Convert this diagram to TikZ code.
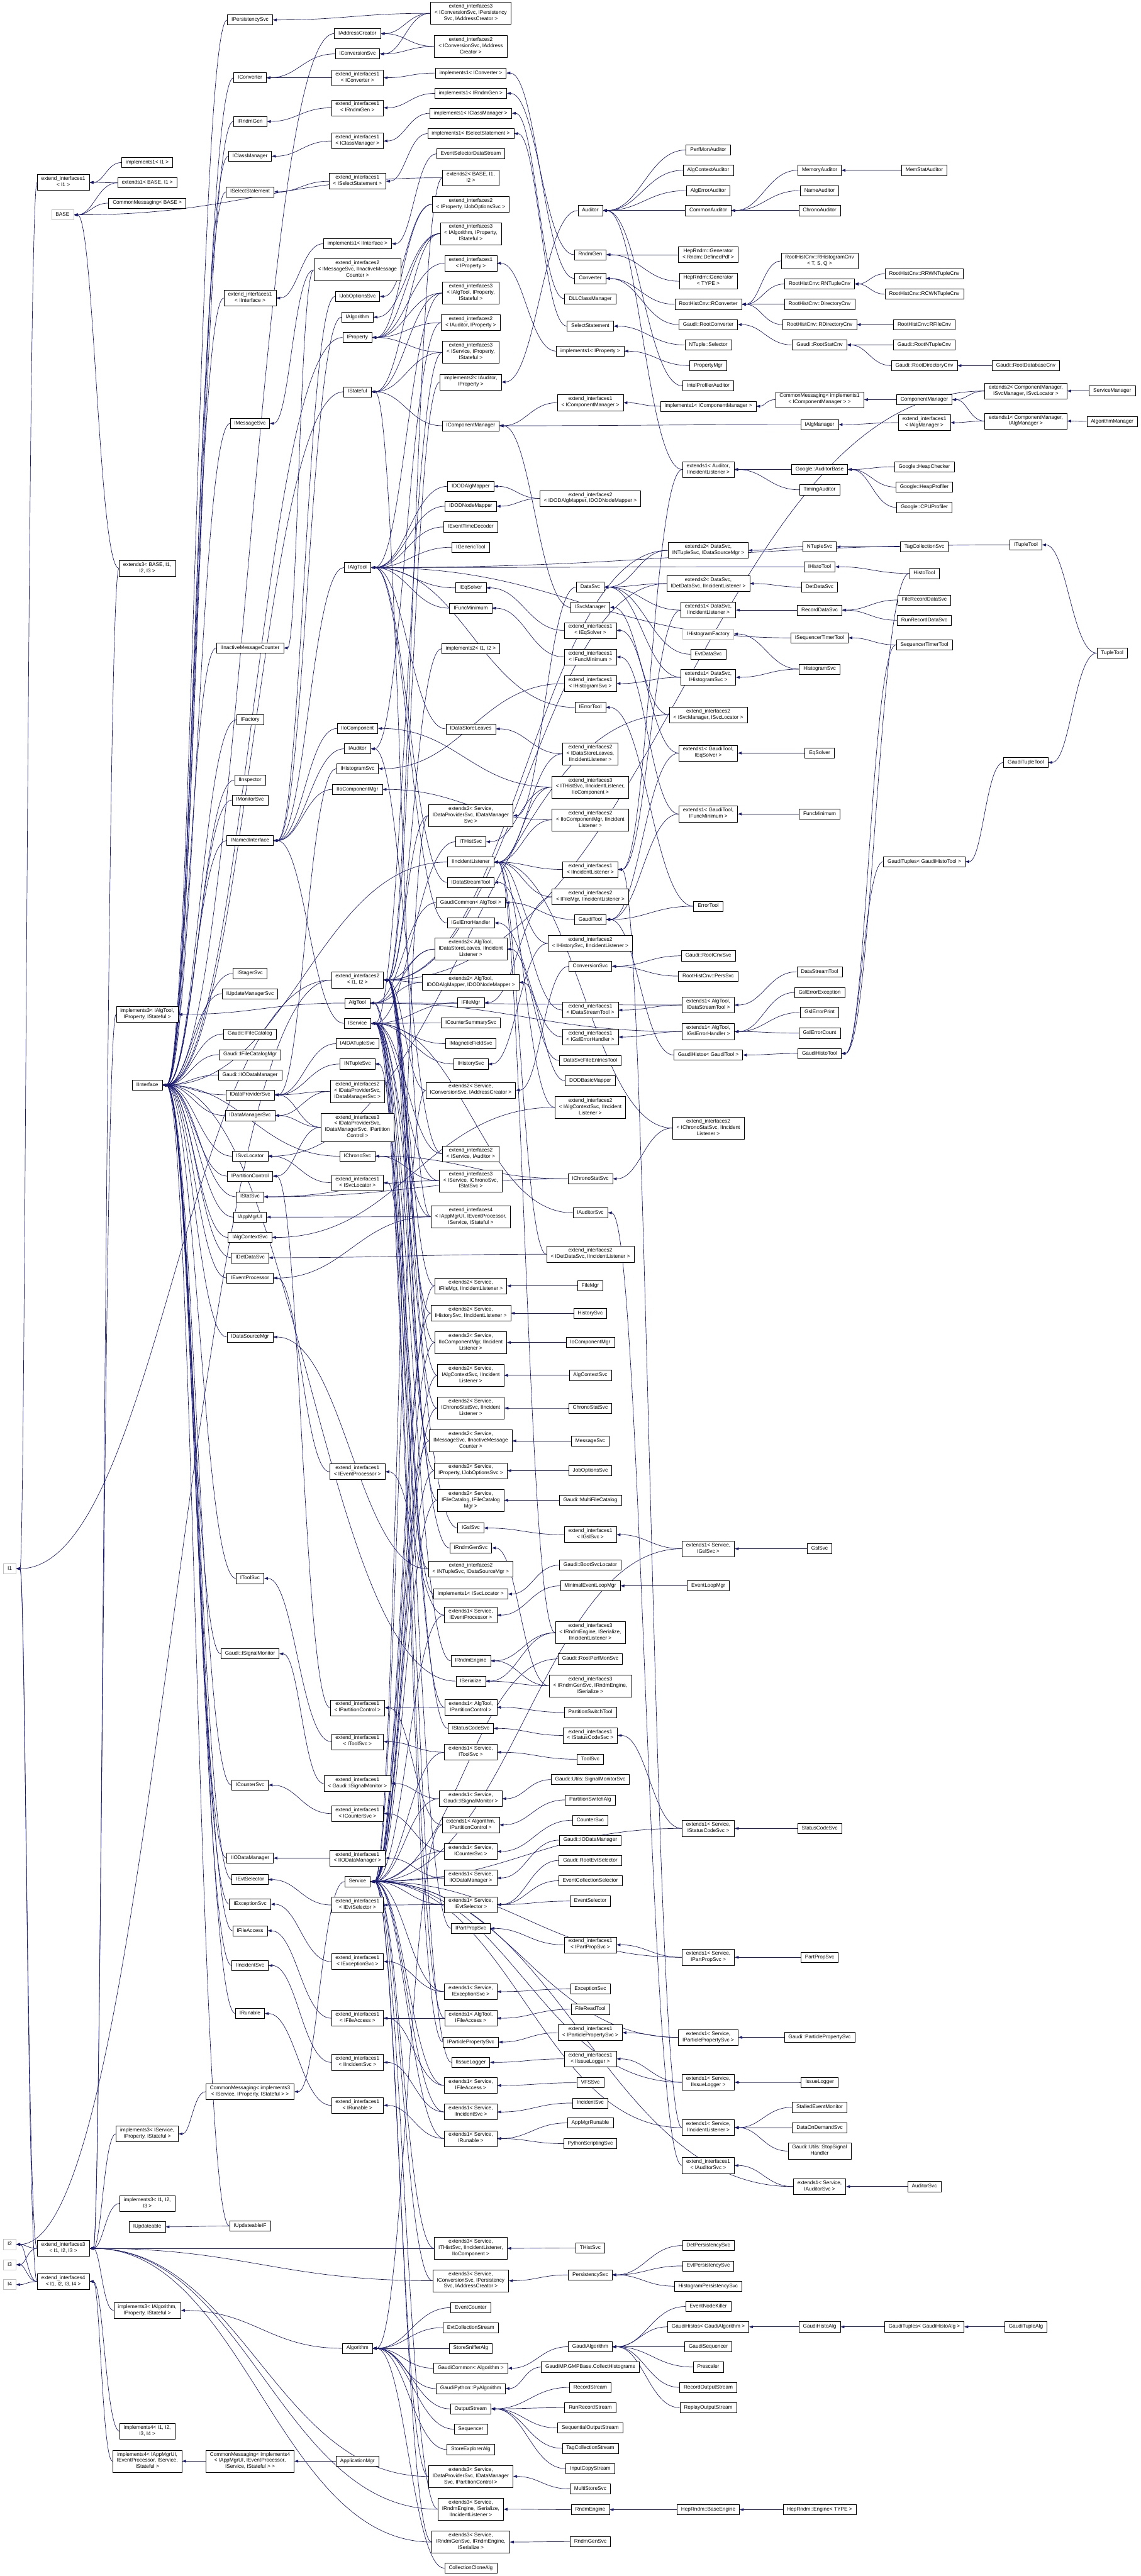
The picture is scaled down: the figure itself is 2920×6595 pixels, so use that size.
\documentclass[tikz,border=0pt]{standalone}
\usepackage{fontspec}
\setmainfont{Liberation Sans}
\usetikzlibrary{arrows.meta,calc}
\definecolor{edgec}{RGB}{25,25,112}
\pgfdeclarelayer{back}
\pgfdeclarelayer{edges}
\pgfsetlayers{back,edges,main}
\tikzset{
 nd/.style={draw=black, fill=white, line width=1pt, align=center, inner xsep=10.5pt, inner ysep=5pt,
   minimum height=26pt, font=\fontsize{13.3}{16}\selectfont,
   execute at begin node=\strut, execute at end node=\strut},
 grn/.style={draw=gray!50},
 edg/.style={draw=edgec, line width=1.1pt, -{Triangle[length=10pt,width=7pt]},
   to path={let \p1=(\tikztostart.west), \p2=(\tikztotarget.east), \n1={max(20pt,0.45*(\x1-\x2))} in (\p1) .. controls +(-\n1,0) and +(\n1,0) .. (\p2)}}
}
\newcommand\Nd[4][]{\node[nd,#1] (#2) at (#3) {#4};}
\newcommand\Ed[2]{\foreach \pp in {#2}{\draw[edg] (#1) to (\pp);}}
\begin{document}
\begin{tikzpicture}[x=1pt,y=-1pt]
\useasboundingbox (0,0) rectangle (2920,6595);
\begin{pgfonlayer}{back}\fill[white] (0,0) rectangle (2920,6595);\end{pgfonlayer}
% ---- col 25
\Nd[grn]{Ia}{25,4016}{I1}
\Nd[grn]{Ib}{25,5746}{I2}
\Nd[grn]{Ic}{25,5798}{I3}
\Nd[grn]{Id}{25,5849}{I4}
% ---- col 162
\Nd{eiIa}{162,467}{extend\_interfaces1\\< I1 >}
\Nd[grn]{BASE}{160,550}{BASE}
\Nd{eiIIIg}{162,5756}{extend\_interfaces3\\< I1, I2, I3 >}
\Nd{eiIVg}{162,5841}{extend\_interfaces4\\< I1, I2, I3, I4 >}
% ---- col 377
\Nd{imIa}{377,416}{implements1< I1 >}
\Nd{exIB}{377,468}{extends1< BASE, I1 >}
\Nd{cmB}{377,520}{CommonMessaging< BASE >}
\Nd{exIIIB}{377,1455}{extends3< BASE, I1,\\I2, I3 >}
\Nd{imToolPS}{377,2597}{implements3< IAlgTool,\\IProperty, IStateful >}
\Nd{IInterface}{377,2778}{IInterface}
\Nd{imSvcPS}{377,5463}{implements3< IService,\\IProperty, IStateful >}
\Nd{imIIIg}{377,5641}{implements3< I1, I2,\\I3 >}
\Nd{IUpdateable}{377,5701}{IUpdateable}
\Nd{imAlgPS}{377,5915}{implements3< IAlgorithm,\\IProperty, IStateful >}
\Nd{imIVg}{377,6224}{implements4< I1, I2,\\I3, I4 >}
\Nd{imApp}{377,6301}{implements4< IAppMgrUI,\\IEventProcessor, IService,\\IStateful >}
% ---- col 640
\Nd{IPersistencySvc}{640,51}{IPersistencySvc}
\Nd{IConverter}{640,199}{IConverter}
\Nd{IRndmGen}{640,311}{IRndmGen}
\Nd{IClassManager}{640,400}{IClassManager}
\Nd{ISelectStatement}{640,491}{ISelectStatement}
\Nd{eiInterface}{640,763}{extend\_interfaces1\\< IInterface >}
\Nd{IMessageSvc}{640,1084}{IMessageSvc}
\Nd{IInactiveMessageCounter}{640,1659}{IInactiveMessageCounter}
\Nd{IFactory}{640,1843}{IFactory}
\Nd{IInspector}{640,1997}{IInspector}
\Nd{IMonitorSvc}{640,2048}{IMonitorSvc}
\Nd{INamedInterface}{640,2152}{INamedInterface}
\Nd{IStagerSvc}{640,2492}{IStagerSvc}
\Nd{IUpdateManagerSvc}{640,2544}{IUpdateManagerSvc}
\Nd{GIFileCatalog}{640,2647}{Gaudi::IFileCatalog}
\Nd{GIFileCatalogMgr}{640,2700}{Gaudi::IFileCatalogMgr}
\Nd{GIIODataManager}{640,2752}{Gaudi::IIODataManager}
\Nd{IDataProviderSvc}{640,2803}{IDataProviderSvc}
\Nd{IDataManagerSvc}{640,2856}{IDataManagerSvc}
\Nd{ISvcLocator}{640,2960}{ISvcLocator}
\Nd{IPartitionControl}{640,3011}{IPartitionControl}
\Nd{IStatSvc}{640,3064}{IStatSvc}
\Nd{IAppMgrUI}{640,3116}{IAppMgrUI}
\Nd{IAlgContextSvc}{640,3168}{IAlgContextSvc}
\Nd{IDetDataSvc}{640,3220}{IDetDataSvc}
\Nd{IEventProcessor}{640,3272}{IEventProcessor}
\Nd{IDataSourceMgr}{640,3423}{IDataSourceMgr}
\Nd{IToolSvc}{640,4041}{IToolSvc}
\Nd{GISignalMonitor}{640,4234}{Gaudi::ISignalMonitor}
\Nd{ICounterSvc}{640,4570}{ICounterSvc}
\Nd{IIODataManager}{640,4757}{IIODataManager}
\Nd{IEvtSelector}{640,4812}{IEvtSelector}
\Nd{IExceptionSvc}{640,4875}{IExceptionSvc}
\Nd{IFileAccess}{640,4943}{IFileAccess}
\Nd{IIncidentSvc}{640,5032}{IIncidentSvc}
\Nd{IRunable}{640,5155}{IRunable}
\Nd{cmImSvc}{640,5355}{CommonMessaging< implements3\\< IService, IProperty, IStateful > >}
\Nd{IUpdateableIF}{640,5699}{IUpdateableIF}
\Nd{cmImApp}{640,6301}{CommonMessaging< implements4\\< IAppMgrUI, IEventProcessor,\\IService, IStateful > >}
% ---- col 915
\Nd{IAddressCreator}{915,86}{IAddressCreator}
\Nd{IConversionSvc}{915,138}{IConversionSvc}
\Nd{eiConverter}{915,199}{extend\_interfaces1\\< IConverter >}
\Nd{eiRndmGen}{915,276}{extend\_interfaces1\\< IRndmGen >}
\Nd{eiClassManager}{915,361}{extend\_interfaces1\\< IClassManager >}
\Nd{eiSelectStatement}{915,464}{extend\_interfaces1\\< ISelectStatement >}
\Nd{imInterface}{915,624}{implements1< IInterface >}
\Nd{eiMsgInact}{915,691}{extend\_interfaces2\\< IMessageSvc, IInactiveMessage\\Counter >}
\Nd{IJobOptionsSvc}{915,759}{IJobOptionsSvc}
\Nd{IAlgorithm}{915,812}{IAlgorithm}
\Nd{IProperty}{915,864}{IProperty}
\Nd{IStateful}{915,1003}{IStateful}
\Nd{IAlgTool}{915,1453}{IAlgTool}
\Nd{IIoComponent}{915,1865}{IIoComponent}
\Nd{IAuditor}{915,1917}{IAuditor}
\Nd{IHistogramSvc}{915,1968}{IHistogramSvc}
\Nd{IIoComponentMgr}{915,2021}{IIoComponentMgr}
\Nd{eiIIg}{915,2509}{extend\_interfaces2\\< I1, I2 >}
\Nd{AlgTool}{915,2568}{AlgTool}
\Nd{IService}{915,2620}{IService}
\Nd{IAIDATupleSvc}{915,2672}{IAIDATupleSvc}
\Nd{INTupleSvc}{915,2724}{INTupleSvc}
\Nd{eiDPMgr}{915,2794}{extend\_interfaces2\\< IDataProviderSvc,\\IDataManagerSvc >}
\Nd{eiDPMgrPart}{915,2886}{extend\_interfaces3\\< IDataProviderSvc,\\IDataManagerSvc, IPartition\\Control >}
\Nd{IChronoSvc}{915,2960}{IChronoSvc}
\Nd{eiSvcLocator}{915,3028}{extend\_interfaces1\\< ISvcLocator >}
\Nd{eiEventProcessor}{915,3768}{extend\_interfaces1\\< IEventProcessor >}
\Nd{eiPartitionControl}{915,4372}{extend\_interfaces1\\< IPartitionControl >}
\Nd{eiToolSvc}{915,4459}{extend\_interfaces1\\< IToolSvc >}
\Nd{eiSignalMon}{915,4566}{extend\_interfaces1\\< Gaudi::ISignalMonitor >}
\Nd{eiCounterSvc}{915,4643}{extend\_interfaces1\\< ICounterSvc >}
\Nd{eiIODataManager}{915,4757}{extend\_interfaces1\\< IIODataManager >}
\Nd{Service}{915,4817}{Service}
\Nd{eiEvtSelector}{915,4877}{extend\_interfaces1\\< IEvtSelector >}
\Nd{eiExceptionSvc}{915,5022}{extend\_interfaces1\\< IExceptionSvc >}
\Nd{eiFileAccess}{915,5167}{extend\_interfaces1\\< IFileAccess >}
\Nd{eiIncidentSvc}{915,5280}{extend\_interfaces1\\< IIncidentSvc >}
\Nd{eiRunable}{915,5390}{extend\_interfaces1\\< IRunable >}
\Nd{Algorithm}{915,6012}{Algorithm}
\Nd{ApplicationMgr}{915,6301}{ApplicationMgr}
% ---- col 1205
\Nd{eiCnvPersAddr}{1205,34}{extend\_interfaces3\\< IConversionSvc, IPersistency\\Svc, IAddressCreator >}
\Nd{eiCnvAddr}{1205,119}{extend\_interfaces2\\< IConversionSvc, IAddress\\Creator >}
\Nd{imConverter}{1205,187}{implements1< IConverter >}
\Nd{imRndmGen}{1205,239}{implements1< IRndmGen >}
\Nd{imClassManager}{1205,290}{implements1< IClassManager >}
\Nd{imSelectStatement}{1205,342}{implements1< ISelectStatement >}
\Nd{EventSelectorDataStream}{1205,394}{EventSelectorDataStream}
\Nd{exIIB}{1205,455}{extends2< BASE, I1,\\I2 >}
\Nd{eiPropJobOpt}{1205,523}{extend\_interfaces2\\< IProperty, IJobOptionsSvc >}
\Nd{eiAlgPS}{1205,598}{extend\_interfaces3\\< IAlgorithm, IProperty,\\IStateful >}
\Nd{eiProperty}{1205,674}{extend\_interfaces1\\< IProperty >}
\Nd{eiToolPS}{1205,750}{extend\_interfaces3\\< IAlgTool, IProperty,\\IStateful >}
\Nd{eiAudProp}{1205,826}{extend\_interfaces2\\< IAuditor, IProperty >}
\Nd{eiSvcPS}{1205,902}{extend\_interfaces3\\< IService, IProperty,\\IStateful >}
\Nd{imAudProp}{1205,978}{implements2< IAuditor,\\IProperty >}
\Nd{IComponentManager}{1205,1090}{IComponentManager}
\Nd{IDODAlgMapper}{1205,1245}{IDODAlgMapper}
\Nd{IDODNodeMapper}{1205,1296}{IDODNodeMapper}
\Nd{IEventTimeDecoder}{1205,1349}{IEventTimeDecoder}
\Nd{IGenericTool}{1205,1401}{IGenericTool}
\Nd{IEqSolver}{1205,1505}{IEqSolver}
\Nd{IFuncMinimum}{1205,1557}{IFuncMinimum}
\Nd{imIIg}{1205,1661}{implements2< I1, I2 >}
\Nd{IDataStoreLeaves}{1205,1866}{IDataStoreLeaves}
\Nd{exSvcDPMgr}{1205,2088}{extends2< Service,\\IDataProviderSvc, IDataManager\\Svc >}
\Nd{ITHistSvc}{1205,2155}{ITHistSvc}
\Nd{IIncidentListener}{1205,2207}{IIncidentListener}
\Nd{IDataStreamTool}{1205,2259}{IDataStreamTool}
\Nd{GaudiCommonAlgTool}{1205,2311}{GaudiCommon< AlgTool >}
\Nd{IGslErrorHandler}{1205,2363}{IGslErrorHandler}
\Nd{exToolDSL}{1205,2430}{extends2< AlgTool,\\IDataStoreLeaves, IIncident\\Listener >}
\Nd{exToolDOD}{1205,2515}{extends2< AlgTool,\\IDODAlgMapper, IDODNodeMapper >}
\Nd{IFileMgr}{1205,2567}{IFileMgr}
\Nd{ICounterSummarySvc}{1205,2619}{ICounterSummarySvc}
\Nd{IMagneticFieldSvc}{1205,2672}{IMagneticFieldSvc}
\Nd{IHistorySvc}{1205,2724}{IHistorySvc}
\Nd{exSvcCnvAddr}{1205,2791}{extends2< Service,\\IConversionSvc, IAddressCreator >}
\Nd{eiSvcAud}{1205,2954}{extend\_interfaces2\\< IService, IAuditor >}
\Nd{eiSvcChronoStat}{1205,3023}{extend\_interfaces3\\< IService, IChronoSvc,\\IStatSvc >}
\Nd{eiAppMgr}{1205,3115}{extend\_interfaces4\\< IAppMgrUI, IEventProcessor,\\IService, IStateful >}
\Nd{exSvcFileMgr}{1205,3292}{extends2< Service,\\IFileMgr, IIncidentListener >}
\Nd{exSvcHistory}{1205,3362}{extends2< Service,\\IHistorySvc, IIncidentListener >}
\Nd{exSvcIoMgr}{1205,3437}{extends2< Service,\\IIoComponentMgr, IIncident\\Listener >}
\Nd{exSvcAlgCtx}{1205,3521}{extends2< Service,\\IAlgContextSvc, IIncident\\Listener >}
\Nd{exSvcChronoStat}{1205,3605}{extends2< Service,\\IChronoStatSvc, IIncident\\Listener >}
\Nd{exSvcMsg}{1205,3689}{extends2< Service,\\IMessageSvc, IInactiveMessage\\Counter >}
\Nd{exSvcJobOpt}{1205,3765}{extends2< Service,\\IProperty, IJobOptionsSvc >}
\Nd{exSvcFileCat}{1205,3841}{extends2< Service,\\IFileCatalog, IFileCatalog\\Mgr >}
\Nd{IGslSvc}{1205,3912}{IGslSvc}
\Nd{IRndmGenSvc}{1205,3963}{IRndmGenSvc}
\Nd{eiNTupleDSM}{1205,4017}{extend\_interfaces2\\< INTupleSvc, IDataSourceMgr >}
\Nd{imSvcLocator}{1205,4081}{implements1< ISvcLocator >}
\Nd{exSvcEvtProc}{1205,4135}{extends1< Service,\\IEventProcessor >}
\Nd{IRndmEngine}{1205,4252}{IRndmEngine}
\Nd{ISerialize}{1205,4304}{ISerialize}
\Nd{exToolPart}{1205,4371}{extends1< AlgTool,\\IPartitionControl >}
\Nd{IStatusCodeSvc}{1205,4425}{IStatusCodeSvc}
\Nd{exSvcTool}{1205,4486}{extends1< Service,\\IToolSvc >}
\Nd{exSvcSignal}{1205,4605}{extends1< Service,\\Gaudi::ISignalMonitor >}
\Nd{exAlgPart}{1205,4672}{extends1< Algorithm,\\IPartitionControl >}
\Nd{exSvcCounter}{1205,4740}{extends1< Service,\\ICounterSvc >}
\Nd{exSvcIOData}{1205,4808}{extends1< Service,\\IIODataManager >}
\Nd{exSvcEvtSel}{1205,4876}{extends1< Service,\\IEvtSelector >}
\Nd{IPartPropSvc}{1205,4937}{IPartPropSvc}
\Nd{exSvcException}{1205,5099}{extends1< Service,\\IExceptionSvc >}
\Nd{exToolFileAccess}{1205,5167}{extends1< AlgTool,\\IFileAccess >}
\Nd{IParticlePropertySvc}{1205,5228}{IParticlePropertySvc}
\Nd{IIssueLogger}{1205,5280}{IIssueLogger}
\Nd{exSvcFileAccess}{1205,5339}{extends1< Service,\\IFileAccess >}
\Nd{exSvcIncidentSvc}{1205,5407}{extends1< Service,\\IIncidentSvc >}
\Nd{exSvcRunable}{1205,5475}{extends1< Service,\\IRunable >}
\Nd{exSvcTHist}{1205,5756}{extends3< Service,\\ITHistSvc, IIncidentListener,\\IIoComponent >}
\Nd{exSvcCnvPers}{1205,5839}{extends3< Service,\\IConversionSvc, IPersistency\\Svc, IAddressCreator >}
\Nd{EventCounter}{1205,5908}{EventCounter}
\Nd{EvtCollectionStream}{1205,5959}{EvtCollectionStream}
\Nd{StoreSnifferAlg}{1205,6012}{StoreSnifferAlg}
\Nd{GaudiCommonAlg}{1205,6063}{GaudiCommon< Algorithm >}
\Nd{PyAlgorithm}{1205,6115}{GaudiPython::PyAlgorithm}
\Nd{OutputStream}{1205,6167}{OutputStream}
\Nd{Sequencer}{1205,6219}{Sequencer}
\Nd{StoreExplorerAlg}{1205,6271}{StoreExplorerAlg}
\Nd{exSvcDataProv}{1205,6340}{extends3< Service,\\IDataProviderSvc, IDataManager\\Svc, IPartitionControl >}
\Nd{exSvcRndmEng}{1205,6424}{extends3< Service,\\IRndmEngine, ISerialize,\\IIncidentListener >}
\Nd{exSvcRndmGen}{1205,6508}{extends3< Service,\\IRndmGenSvc, IRndmEngine,\\ISerialize >}
\Nd{CollectionCloneAlg}{1205,6575}{CollectionCloneAlg}
% ---- col 1511
\Nd{Auditor}{1511,539}{Auditor}
\Nd{RndmGen}{1511,652}{RndmGen}
\Nd{Converter}{1511,713}{Converter}
\Nd{DLLClassManager}{1511,765}{DLLClassManager}
\Nd{SelectStatement}{1511,835}{SelectStatement}
\Nd{imProperty}{1511,899}{implements1< IProperty >}
\Nd{eiComponentManager}{1511,1031}{extend\_interfaces1\\< IComponentManager >}
\Nd{eiDODMappers}{1511,1276}{extend\_interfaces2\\< IDODAlgMapper, IDODNodeMapper >}
\Nd{DataSvc}{1511,1503}{DataSvc}
\Nd{ISvcManager}{1511,1555}{ISvcManager}
\Nd{eiEqSolver}{1511,1614}{extend\_interfaces1\\< IEqSolver >}
\Nd{eiFuncMinimum}{1511,1682}{extend\_interfaces1\\< IFuncMinimum >}
\Nd{eiHistogramSvc}{1511,1750}{extend\_interfaces1\\< IHistogramSvc >}
\Nd{IErrorTool}{1511,1811}{IErrorTool}
\Nd{eiDSLInc}{1511,1930}{extend\_interfaces2\\< IDataStoreLeaves,\\IIncidentListener >}
\Nd{eiTHist}{1511,2015}{extend\_interfaces3\\< ITHistSvc, IIncidentListener,\\IIoComponent >}
\Nd{eiIoMgrInc}{1511,2099}{extend\_interfaces2\\< IIoComponentMgr, IIncident\\Listener >}
\Nd{eiIncidentListener}{1511,2226}{extend\_interfaces1\\< IIncidentListener >}
\Nd{eiFileMgrInc}{1511,2296}{extend\_interfaces2\\< IFileMgr, IIncidentListener >}
\Nd{GaudiTool}{1511,2354}{GaudiTool}
\Nd{eiHistorySvcInc}{1511,2415}{extend\_interfaces2\\< IHistorySvc, IIncidentListener >}
\Nd{ConversionSvc}{1511,2474}{ConversionSvc}
\Nd{eiDataStreamTool}{1511,2586}{extend\_interfaces1\\< IDataStreamTool >}
\Nd{eiGslErrorHandler}{1511,2655}{extend\_interfaces1\\< IGslErrorHandler >}
\Nd{DataSvcFileEntriesTool}{1511,2715}{DataSvcFileEntriesTool}
\Nd{DODBasicMapper}{1511,2767}{DODBasicMapper}
\Nd{eiAlgCtxInc}{1511,2835}{extend\_interfaces2\\< IAlgContextSvc, IIncident\\Listener >}
\Nd{IChronoStatSvc}{1511,3018}{IChronoStatSvc}
\Nd{IAuditorSvc}{1511,3105}{IAuditorSvc}
\Nd{eiDetDataInc}{1511,3211}{extend\_interfaces2\\< IDetDataSvc, IIncidentListener >}
\Nd{FileMgr}{1511,3292}{FileMgr}
\Nd{HistorySvc}{1511,3362}{HistorySvc}
\Nd{IoComponentMgr}{1511,3437}{IoComponentMgr}
\Nd{AlgContextSvc}{1511,3521}{AlgContextSvc}
\Nd{ChronoStatSvc}{1511,3605}{ChronoStatSvc}
\Nd{MessageSvc}{1511,3689}{MessageSvc}
\Nd{JobOptionsSvc}{1511,3765}{JobOptionsSvc}
\Nd{MultiFileCatalog}{1511,3841}{Gaudi::MultiFileCatalog}
\Nd{eiGslSvc}{1511,3929}{extend\_interfaces1\\< IGslSvc >}
\Nd{BootSvcLocator}{1511,4007}{Gaudi::BootSvcLocator}
\Nd{MinimalEventLoopMgr}{1511,4060}{MinimalEventLoopMgr}
\Nd{eiRndmEngSerInc}{1511,4180}{extend\_interfaces3\\< IRndmEngine, ISerialize,\\IIncidentListener >}
\Nd{RootPerfMonSvc}{1511,4247}{Gaudi::RootPerfMonSvc}
\Nd{eiRndmGenEngSer}{1511,4316}{extend\_interfaces3\\< IRndmGenSvc, IRndmEngine,\\ISerialize >}
\Nd{PartitionSwitchTool}{1511,4384}{PartitionSwitchTool}
\Nd{eiStatusCodeSvc}{1511,4443}{extend\_interfaces1\\< IStatusCodeSvc >}
\Nd{ToolSvc}{1511,4504}{ToolSvc}
\Nd{SignalMonitorSvc}{1511,4556}{Gaudi::Utils::SignalMonitorSvc}
\Nd{PartitionSwitchAlg}{1511,4608}{PartitionSwitchAlg}
\Nd{CounterSvc}{1511,4660}{CounterSvc}
\Nd{GIODataManager}{1511,4711}{Gaudi::IODataManager}
\Nd{RootEvtSelector}{1511,4763}{Gaudi::RootEvtSelector}
\Nd{EventCollectionSelector}{1511,4815}{EventCollectionSelector}
\Nd{EventSelector}{1511,4867}{EventSelector}
\Nd{eiPartPropSvc}{1511,4979}{extend\_interfaces1\\< IPartPropSvc >}
\Nd{ExceptionSvc}{1511,5092}{ExceptionSvc}
\Nd{FileReadTool}{1511,5144}{FileReadTool}
\Nd{eiParticleProp}{1511,5204}{extend\_interfaces1\\< IParticlePropertySvc >}
\Nd{eiIssueLogger}{1511,5271}{extend\_interfaces1\\< IIssueLogger >}
\Nd{VFSSvc}{1511,5332}{VFSSvc}
\Nd{IncidentSvc}{1511,5384}{IncidentSvc}
\Nd{AppMgrRunable}{1511,5435}{AppMgrRunable}
\Nd{PythonScriptingSvc}{1511,5488}{PythonScriptingSvc}
\Nd{THistSvc}{1511,5755}{THistSvc}
\Nd{PersistencySvc}{1511,5824}{PersistencySvc}
\Nd{GaudiAlgorithm}{1511,6008}{GaudiAlgorithm}
\Nd{CollectHistograms}{1511,6060}{GaudiMP.GMPBase.CollectHistograms}
\Nd{RecordStream}{1511,6112}{RecordStream}
\Nd{RunRecordStream}{1511,6164}{RunRecordStream}
\Nd{SequentialOutputStream}{1511,6216}{SequentialOutputStream}
\Nd{TagCollectionStream}{1511,6268}{TagCollectionStream}
\Nd{InputCopyStream}{1511,6320}{InputCopyStream}
\Nd{MultiStoreSvc}{1511,6372}{MultiStoreSvc}
\Nd{RndmEngine}{1511,6425}{RndmEngine}
\Nd{RndmGenSvc}{1511,6507}{RndmGenSvc}
% ---- col 1813
\Nd{PerfMonAuditor}{1813,384}{PerfMonAuditor}
\Nd{AlgContextAuditor}{1813,436}{AlgContextAuditor}
\Nd{AlgErrorAuditor}{1813,488}{AlgErrorAuditor}
\Nd{CommonAuditor}{1813,539}{CommonAuditor}
\Nd{GenDefinedPdf}{1813,652}{HepRndm::Generator\\< Rndm::DefinedPdf >}
\Nd{GenTYPE}{1813,720}{HepRndm::Generator\\< TYPE >}
\Nd{RConverter}{1813,779}{RootHistCnv::RConverter}
\Nd{RootConverter}{1813,831}{Gaudi::RootConverter}
\Nd{NTupleSelector}{1813,883}{NTuple::Selector}
\Nd{PropertyMgr}{1813,936}{PropertyMgr}
\Nd{IntelProfilerAuditor}{1813,988}{IntelProfilerAuditor}
\Nd{imComponentManager}{1813,1040}{implements1< IComponentManager >}
\Nd{exAuditorInc}{1813,1202}{extends1< Auditor,\\IIncidentListener >}
\Nd{exDataSvcNTuple}{1813,1409}{extends2< DataSvc,\\INTupleSvc, IDataSourceMgr >}
\Nd{exDataSvcDet}{1813,1494}{extends2< DataSvc,\\IDetDataSvc, IIncidentListener >}
\Nd{exDataSvcInc}{1813,1562}{extends1< DataSvc,\\IIncidentListener >}
\Nd[grn]{IHistogramFactory}{1813,1623}{IHistogramFactory}
\Nd{EvtDataSvc}{1813,1675}{EvtDataSvc}
\Nd{exDataSvcHisto}{1813,1734}{extends1< DataSvc,\\IHistogramSvc >}
\Nd{eiSvcMgrLoc}{1813,1830}{extend\_interfaces2\\< ISvcManager, ISvcLocator >}
\Nd{exGToolEq}{1813,1928}{extends1< GaudiTool,\\IEqSolver >}
\Nd{exGToolFunc}{1813,2084}{extends1< GaudiTool,\\IFuncMinimum >}
\Nd{ErrorTool}{1813,2320}{ErrorTool}
\Nd{RootCnvSvc}{1813,2447}{Gaudi::RootCnvSvc}
\Nd{PersSvc}{1813,2499}{RootHistCnv::PersSvc}
\Nd{exToolDST}{1813,2573}{extends1< AlgTool,\\IDataStreamTool >}
\Nd{exToolGsl}{1813,2641}{extends1< AlgTool,\\IGslErrorHandler >}
\Nd{GaudiHistosTool}{1813,2701}{GaudiHistos< GaudiTool >}
\Nd{eiChronoStatInc}{1813,2888}{extend\_interfaces2\\< IChronoStatSvc, IIncident\\Listener >}
\Nd{exSvcGsl}{1813,3965}{extends1< Service,\\IGslSvc >}
\Nd{EventLoopMgr}{1813,4060}{EventLoopMgr}
\Nd{exSvcStatusCode}{1813,4681}{extends1< Service,\\IStatusCodeSvc >}
\Nd{exSvcPartProp}{1813,5011}{extends1< Service,\\IPartPropSvc >}
\Nd{exSvcParticleProp}{1813,5216}{extends1< Service,\\IParticlePropertySvc >}
\Nd{exSvcIssueLogger}{1813,5331}{extends1< Service,\\IIssueLogger >}
\Nd{exSvcIncident}{1813,5447}{extends1< Service,\\IIncidentListener >}
\Nd{eiAuditorSvc}{1813,5544}{extend\_interfaces1\\< IAuditorSvc >}
\Nd{DetPersistencySvc}{1813,5749}{DetPersistencySvc}
\Nd{EvtPersistencySvc}{1813,5801}{EvtPersistencySvc}
\Nd{HistogramPersistencySvc}{1813,5853}{HistogramPersistencySvc}
\Nd{EventNodeKiller}{1813,5905}{EventNodeKiller}
\Nd{GaudiHistosAlg}{1813,5957}{GaudiHistos< GaudiAlgorithm >}
\Nd{GaudiSequencer}{1813,6008}{GaudiSequencer}
\Nd{Prescaler}{1813,6060}{Prescaler}
\Nd{RecordOutputStream}{1813,6112}{RecordOutputStream}
\Nd{ReplayOutputStream}{1813,6164}{ReplayOutputStream}
\Nd{HepBaseEngine}{1813,6425}{HepRndm::BaseEngine}
% ---- col 2098
\Nd{MemoryAuditor}{2098,436}{MemoryAuditor}
\Nd{NameAuditor}{2098,488}{NameAuditor}
\Nd{ChronoAuditor}{2098,539}{ChronoAuditor}
\Nd{RHistogramCnv}{2098,668}{RootHistCnv::RHistogramCnv\\< T, S, Q >}
\Nd{RNTupleCnv}{2098,727}{RootHistCnv::RNTupleCnv}
\Nd{DirectoryCnv}{2098,779}{RootHistCnv::DirectoryCnv}
\Nd{RDirectoryCnv}{2098,831}{RootHistCnv::RDirectoryCnv}
\Nd{RootStatCnv}{2098,883}{Gaudi::RootStatCnv}
\Nd{cmImCompMgr}{2098,1023}{CommonMessaging< implements1\\< IComponentManager > >}
\Nd{IAlgManager}{2098,1087}{IAlgManager}
\Nd{AuditorBase}{2098,1202}{Google::AuditorBase}
\Nd{TimingAuditor}{2098,1254}{TimingAuditor}
\Nd{NTupleSvc}{2098,1400}{NTupleSvc}
\Nd{IHistoTool}{2098,1451}{IHistoTool}
\Nd{DetDataSvc}{2098,1503}{DetDataSvc}
\Nd{RecordDataSvc}{2098,1562}{RecordDataSvc}
\Nd{ISequencerTimerTool}{2098,1633}{ISequencerTimerTool}
\Nd{HistogramSvc}{2098,1713}{HistogramSvc}
\Nd{EqSolver}{2098,1928}{EqSolver}
\Nd{FuncMinimum}{2098,2084}{FuncMinimum}
\Nd{DataStreamTool}{2098,2488}{DataStreamTool}
\Nd{GslErrorException}{2098,2541}{GslErrorException}
\Nd{GslErrorPrint}{2098,2592}{GslErrorPrint}
\Nd{GslErrorCount}{2098,2645}{GslErrorCount}
\Nd{GaudiHistoTool}{2098,2697}{GaudiHistoTool}
\Nd{GslSvc}{2098,3965}{GslSvc}
\Nd{StatusCodeSvc}{2098,4681}{StatusCodeSvc}
\Nd{PartPropSvc}{2098,5011}{PartPropSvc}
\Nd{GParticlePropertySvc}{2098,5216}{Gaudi::ParticlePropertySvc}
\Nd{IssueLogger}{2098,5331}{IssueLogger}
\Nd{StalledEventMonitor}{2098,5395}{StalledEventMonitor}
\Nd{DataOnDemandSvc}{2098,5447}{DataOnDemandSvc}
\Nd{StopSignalHandler}{2098,5507}{Gaudi::Utils::StopSignal\\Handler}
\Nd{exSvcAuditorSvc}{2098,5598}{extends1< Service,\\IAuditorSvc >}
\Nd{GaudiHistoAlg}{2098,5957}{GaudiHistoAlg}
\Nd{HepEngine}{2098,6425}{HepRndm::Engine< TYPE >}
% ---- col 2366
\Nd{MemStatAuditor}{2366,436}{MemStatAuditor}
\Nd{RRWNTupleCnv}{2366,701}{RootHistCnv::RRWNTupleCnv}
\Nd{RCWNTupleCnv}{2366,753}{RootHistCnv::RCWNTupleCnv}
\Nd{RFileCnv}{2366,831}{RootHistCnv::RFileCnv}
\Nd{RootNTupleCnv}{2366,883}{Gaudi::RootNTupleCnv}
\Nd{RootDirectoryCnv}{2366,936}{Gaudi::RootDirectoryCnv}
\Nd{ComponentManager}{2366,1023}{ComponentManager}
\Nd{eiAlgManager}{2366,1082}{extend\_interfaces1\\< IAlgManager >}
\Nd{HeapChecker}{2366,1195}{Google::HeapChecker}
\Nd{HeapProfiler}{2366,1247}{Google::HeapProfiler}
\Nd{CPUProfiler}{2366,1299}{Google::CPUProfiler}
\Nd{TagCollectionSvc}{2366,1400}{TagCollectionSvc}
\Nd{HistoTool}{2366,1468}{HistoTool}
\Nd{FileRecordDataSvc}{2366,1536}{FileRecordDataSvc}
\Nd{RunRecordDataSvc}{2366,1588}{RunRecordDataSvc}
\Nd{SequencerTimerTool}{2366,1651}{SequencerTimerTool}
\Nd{GaudiTuplesTool}{2366,2206}{GaudiTuples< GaudiHistoTool >}
\Nd{AuditorSvc}{2366,5598}{AuditorSvc}
\Nd{GaudiTuplesAlg}{2366,5957}{GaudiTuples< GaudiHistoAlg >}
% ---- col 2626 / 2847
\Nd{RootDatabaseCnv}{2626,936}{Gaudi::RootDatabaseCnv}
\Nd{exCompMgrII}{2626,1001}{extends2< ComponentManager,\\ISvcManager, ISvcLocator >}
\Nd{exCompMgrI}{2626,1078}{extends1< ComponentManager,\\IAlgManager >}
\Nd{ITupleTool}{2626,1395}{ITupleTool}
\Nd{GaudiTupleTool}{2626,1952}{GaudiTupleTool}
\Nd{GaudiTupleAlg}{2626,5957}{GaudiTupleAlg}
\Nd{ServiceManager}{2847,1001}{ServiceManager}
\Nd{AlgorithmManager}{2847,1079}{AlgorithmManager}
\Nd{TupleTool}{2847,1672}{TupleTool}
% ================= edges
\begin{pgfonlayer}{edges}
\Ed{eiIa}{Ia}
\Ed{imIa}{eiIa}
\Ed{exIB}{eiIa,BASE}
\Ed{cmB}{BASE}
\Ed{exIIB}{BASE,eiIIg}
\Ed{exIIIB}{BASE,eiIIIg}
\Ed{eiIIg}{Ia,Ib}
\Ed{imIIg}{eiIIg}
\Ed{eiIIIg}{Ia,Ib,Ic}
\Ed{imIIIg}{eiIIIg}
\Ed{eiIVg}{Ia,Ib,Ic,Id}
\Ed{imIVg}{eiIVg}
\foreach \cc in {IPersistencySvc,IConverter,IRndmGen,IClassManager,ISelectStatement,eiInterface,IMessageSvc,IInactiveMessageCounter,IFactory,IInspector,IMonitorSvc,INamedInterface,IStagerSvc,IUpdateManagerSvc,GIFileCatalog,GIFileCatalogMgr,GIIODataManager,IDataProviderSvc,IDataManagerSvc,ISvcLocator,IPartitionControl,IStatSvc,IAppMgrUI,IAlgContextSvc,IDetDataSvc,IEventProcessor,IDataSourceMgr,IToolSvc,GISignalMonitor,ICounterSvc,IIODataManager,IEvtSelector,IExceptionSvc,IFileAccess,IIncidentSvc,IRunable,IUpdateableIF,IAddressCreator,IProperty,IStateful,IChronoSvc,IIncidentListener,ISerialize}{\draw[edg] (\cc) to (IInterface);}
\foreach \cc in {IJobOptionsSvc,IAlgorithm,IAlgTool,IIoComponent,IAuditor,IIoComponentMgr,IService}{\draw[edg] (\cc) to (INamedInterface);}
\foreach \cc in {IHistogramSvc,IAIDATupleSvc,INTupleSvc}{\draw[edg] (\cc) to (IDataProviderSvc);}
\foreach \cc in {IDODAlgMapper,IDODNodeMapper,IEventTimeDecoder,IGenericTool,IEqSolver,IFuncMinimum,IDataStoreLeaves,IDataStreamTool,IGslErrorHandler,IErrorTool,IHistoTool,ISequencerTimerTool,ITupleTool}{\draw[edg] (\cc) to (IAlgTool);}
\foreach \cc in {ITHistSvc,IFileMgr,ICounterSummarySvc,IMagneticFieldSvc,IHistorySvc,IGslSvc,IRndmGenSvc,IRndmEngine,IStatusCodeSvc,IPartPropSvc,IParticlePropertySvc,IIssueLogger,IAuditorSvc}{\draw[edg] (\cc) to (IService);}
\Ed{IConversionSvc}{IConverter}
\Ed{IComponentManager}{IStateful}
\Ed{ISvcManager}{IComponentManager}
\Ed{IAlgManager}{IComponentManager}
\Ed{IChronoStatSvc}{IChronoSvc,IStatSvc}
\Ed{IUpdateableIF}{IUpdateable}
% extend_interfaces instances
\Ed{eiConverter}{IConverter}
\Ed{eiRndmGen}{IRndmGen}
\Ed{eiClassManager}{IClassManager}
\Ed{eiSelectStatement}{ISelectStatement}
\Ed{eiMsgInact}{IMessageSvc,IInactiveMessageCounter}
\Ed{eiCnvPersAddr}{IConversionSvc,IPersistencySvc,IAddressCreator}
\Ed{eiCnvAddr}{IConversionSvc,IAddressCreator}
\Ed{eiPropJobOpt}{IProperty,IJobOptionsSvc}
\Ed{eiAlgPS}{IAlgorithm,IProperty,IStateful}
\Ed{eiProperty}{IProperty}
\Ed{eiToolPS}{IAlgTool,IProperty,IStateful}
\Ed{eiAudProp}{IAuditor,IProperty}
\Ed{eiSvcPS}{IService,IProperty,IStateful}
\Ed{eiComponentManager}{IComponentManager}
\Ed{eiDODMappers}{IDODAlgMapper,IDODNodeMapper}
\Ed{eiEqSolver}{IEqSolver}
\Ed{eiFuncMinimum}{IFuncMinimum}
\Ed{eiHistogramSvc}{IHistogramSvc}
\Ed{eiDSLInc}{IDataStoreLeaves,IIncidentListener}
\Ed{eiTHist}{ITHistSvc,IIncidentListener,IIoComponent}
\Ed{eiIoMgrInc}{IIoComponentMgr,IIncidentListener}
\Ed{eiIncidentListener}{IIncidentListener}
\Ed{eiFileMgrInc}{IFileMgr,IIncidentListener}
\Ed{eiHistorySvcInc}{IHistorySvc,IIncidentListener}
\Ed{eiDataStreamTool}{IDataStreamTool}
\Ed{eiGslErrorHandler}{IGslErrorHandler}
\Ed{eiAlgCtxInc}{IAlgContextSvc,IIncidentListener}
\Ed{eiChronoStatInc}{IChronoStatSvc,IIncidentListener}
\Ed{eiDetDataInc}{IDetDataSvc,IIncidentListener}
\Ed{eiDPMgr}{IDataProviderSvc,IDataManagerSvc}
\Ed{eiDPMgrPart}{IDataProviderSvc,IDataManagerSvc,IPartitionControl}
\Ed{eiSvcLocator}{ISvcLocator}
\Ed{eiSvcAud}{IService,IAuditor}
\Ed{eiSvcChronoStat}{IService,IChronoSvc,IStatSvc}
\Ed{eiAppMgr}{IAppMgrUI,IEventProcessor,IService,IStateful}
\Ed{eiEventProcessor}{IEventProcessor}
\Ed{eiNTupleDSM}{INTupleSvc,IDataSourceMgr}
\Ed{eiGslSvc}{IGslSvc}
\Ed{eiRndmEngSerInc}{IRndmEngine,ISerialize,IIncidentListener}
\Ed{eiRndmGenEngSer}{IRndmGenSvc,IRndmEngine,ISerialize}
\Ed{eiPartitionControl}{IPartitionControl}
\Ed{eiStatusCodeSvc}{IStatusCodeSvc}
\Ed{eiToolSvc}{IToolSvc}
\Ed{eiSignalMon}{GISignalMonitor}
\Ed{eiCounterSvc}{ICounterSvc}
\Ed{eiIODataManager}{IIODataManager}
\Ed{eiEvtSelector}{IEvtSelector}
\Ed{eiPartPropSvc}{IPartPropSvc}
\Ed{eiExceptionSvc}{IExceptionSvc}
\Ed{eiFileAccess}{IFileAccess}
\Ed{eiParticleProp}{IParticlePropertySvc}
\Ed{eiIncidentSvc}{IIncidentSvc}
\Ed{eiIssueLogger}{IIssueLogger}
\Ed{eiRunable}{IRunable}
\Ed{eiAuditorSvc}{IAuditorSvc}
\Ed{eiSvcMgrLoc}{ISvcManager,ISvcLocator}
\Ed{eiAlgManager}{IAlgManager}
% implements
\Ed{imConverter}{eiConverter}
\Ed{imRndmGen}{eiRndmGen}
\Ed{imClassManager}{eiClassManager}
\Ed{imSelectStatement}{eiSelectStatement}
\Ed{imInterface}{eiInterface}
\Ed{imProperty}{eiProperty}
\Ed{imComponentManager}{eiComponentManager}
\Ed{imSvcLocator}{eiSvcLocator}
\Ed{imAudProp}{eiIIg}
\Ed{imToolPS}{eiIIIg}
\Ed{imSvcPS}{eiIIIg}
\Ed{imAlgPS}{eiIIIg}
\Ed{imApp}{eiIVg}
\Ed{cmImSvc}{imSvcPS}
\Ed{cmImApp}{imApp}
\Ed{cmImCompMgr}{imComponentManager}
% extends
\foreach \cc in {exSvcDPMgr,exSvcCnvAddr,exSvcFileMgr,exSvcHistory,exSvcIoMgr,exSvcAlgCtx,exSvcChronoStat,exSvcMsg,exSvcJobOpt,exSvcFileCat}{\draw[edg] (\cc) to (Service); \draw[edg] (\cc) to (eiIIg);}
\Ed{exToolDSL}{AlgTool,eiIIg}
\Ed{exToolDOD}{AlgTool,eiIIg}
\Ed{exDataSvcNTuple}{DataSvc,eiIIg}
\Ed{exDataSvcDet}{DataSvc,eiIIg}
\Ed{exCompMgrII}{ComponentManager,eiIIg}
\foreach \cc in {exSvcTHist,exSvcCnvPers,exSvcDataProv,exSvcRndmEng,exSvcRndmGen}{\draw[edg] (\cc) to (Service); \draw[edg] (\cc) to (eiIIIg);}
\Ed{exSvcEvtProc}{Service,eiEventProcessor}
\Ed{exToolPart}{AlgTool,eiPartitionControl}
\Ed{exSvcTool}{Service,eiToolSvc}
\Ed{exSvcSignal}{Service,eiSignalMon}
\Ed{exAlgPart}{Algorithm,eiPartitionControl}
\Ed{exSvcCounter}{Service,eiCounterSvc}
\Ed{exSvcIOData}{Service,eiIODataManager}
\Ed{exSvcEvtSel}{Service,eiEvtSelector}
\Ed{exSvcException}{Service,eiExceptionSvc}
\Ed{exToolFileAccess}{AlgTool,eiFileAccess}
\Ed{exSvcFileAccess}{Service,eiFileAccess}
\Ed{exSvcIncidentSvc}{Service,eiIncidentSvc}
\Ed{exSvcRunable}{Service,eiRunable}
\Ed{exAuditorInc}{Auditor,eiIncidentListener}
\Ed{exDataSvcInc}{DataSvc,eiIncidentListener}
\Ed{exDataSvcHisto}{DataSvc,eiHistogramSvc}
\Ed{exGToolEq}{GaudiTool,eiEqSolver}
\Ed{exGToolFunc}{GaudiTool,eiFuncMinimum}
\Ed{exToolDST}{AlgTool,eiDataStreamTool}
\Ed{exToolGsl}{AlgTool,eiGslErrorHandler}
\Ed{exSvcGsl}{Service,eiGslSvc}
\Ed{exSvcStatusCode}{Service,eiStatusCodeSvc}
\Ed{exSvcPartProp}{Service,eiPartPropSvc}
\Ed{exSvcParticleProp}{Service,eiParticleProp}
\Ed{exSvcIssueLogger}{Service,eiIssueLogger}
\Ed{exSvcIncident}{Service,eiIncidentListener}
\Ed{exSvcAuditorSvc}{Service,eiAuditorSvc}
\Ed{exCompMgrI}{ComponentManager,eiAlgManager}
% classes
\Ed{AlgTool}{imToolPS}
\Ed{Service}{cmImSvc}
\Ed{Algorithm}{imAlgPS}
\Ed{ApplicationMgr}{cmImApp}
\Ed{Auditor}{imAudProp}
\foreach \cc in {PerfMonAuditor,AlgContextAuditor,AlgErrorAuditor,CommonAuditor,IntelProfilerAuditor}{\draw[edg] (\cc) to (Auditor);}
\foreach \cc in {MemoryAuditor,NameAuditor,ChronoAuditor}{\draw[edg] (\cc) to (CommonAuditor);}
\Ed{MemStatAuditor}{MemoryAuditor}
\Ed{RndmGen}{imRndmGen}
\Ed{GenDefinedPdf}{RndmGen}
\Ed{GenTYPE}{RndmGen}
\Ed{Converter}{imConverter}
\Ed{RConverter}{Converter}
\Ed{RootConverter}{Converter}
\foreach \cc in {RHistogramCnv,RNTupleCnv,DirectoryCnv,RDirectoryCnv}{\draw[edg] (\cc) to (RConverter);}
\Ed{RRWNTupleCnv}{RNTupleCnv}
\Ed{RCWNTupleCnv}{RNTupleCnv}
\Ed{RFileCnv}{RDirectoryCnv}
\Ed{RootStatCnv}{RootConverter}
\Ed{RootNTupleCnv}{RootStatCnv}
\Ed{RootDirectoryCnv}{RootStatCnv}
\Ed{RootDatabaseCnv}{RootDirectoryCnv}
\Ed{DLLClassManager}{imClassManager}
\Ed{SelectStatement}{imSelectStatement}
\Ed{NTupleSelector}{SelectStatement}
\Ed{EventSelectorDataStream}{imInterface}
\Ed{PropertyMgr}{imProperty}
\Ed{ComponentManager}{cmImCompMgr}
\Ed{ServiceManager}{exCompMgrII}
\Ed{AlgorithmManager}{exCompMgrI}
\Ed{AuditorBase}{exAuditorInc}
\Ed{TimingAuditor}{exAuditorInc}
\foreach \cc in {HeapChecker,HeapProfiler,CPUProfiler}{\draw[edg] (\cc) to (AuditorBase);}
\Ed{DataSvc}{exSvcDPMgr}
\Ed{NTupleSvc}{exDataSvcNTuple}
\Ed{TagCollectionSvc}{NTupleSvc}
\Ed{DetDataSvc}{exDataSvcDet}
\Ed{RecordDataSvc}{exDataSvcInc}
\Ed{FileRecordDataSvc}{RecordDataSvc}
\Ed{RunRecordDataSvc}{RecordDataSvc}
\Ed{EvtDataSvc}{DataSvc}
\Ed{HistogramSvc}{exDataSvcHisto,IHistogramFactory}
\Ed{HistoTool}{IHistoTool,GaudiHistoTool}
\Ed{SequencerTimerTool}{ISequencerTimerTool,GaudiHistoTool}
\Ed{TupleTool}{ITupleTool,GaudiTupleTool}
\Ed{GaudiTupleTool}{GaudiTuplesTool}
\Ed{GaudiTuplesTool}{GaudiHistoTool}
\Ed{GaudiHistoTool}{GaudiHistosTool}
\Ed{GaudiHistosTool}{GaudiTool}
\Ed{GaudiTool}{GaudiCommonAlgTool}
\Ed{GaudiCommonAlgTool}{AlgTool}
\Ed{ErrorTool}{GaudiTool,IErrorTool}
\Ed{EqSolver}{exGToolEq}
\Ed{FuncMinimum}{exGToolFunc}
\Ed{ConversionSvc}{exSvcCnvAddr}
\Ed{RootCnvSvc}{ConversionSvc}
\Ed{PersSvc}{ConversionSvc}
\Ed{DataStreamTool}{exToolDST}
\foreach \cc in {GslErrorException,GslErrorPrint,GslErrorCount}{\draw[edg] (\cc) to (exToolGsl);}
\Ed{DataSvcFileEntriesTool}{exToolDSL}
\Ed{DODBasicMapper}{exToolDOD}
\Ed{FileMgr}{exSvcFileMgr}
\Ed{HistorySvc}{exSvcHistory}
\Ed{IoComponentMgr}{exSvcIoMgr}
\Ed{AlgContextSvc}{exSvcAlgCtx}
\Ed{ChronoStatSvc}{exSvcChronoStat}
\Ed{MessageSvc}{exSvcMsg}
\Ed{JobOptionsSvc}{exSvcJobOpt}
\Ed{MultiFileCatalog}{exSvcFileCat}
\Ed{GslSvc}{exSvcGsl}
\Ed{BootSvcLocator}{imSvcLocator}
\Ed{MinimalEventLoopMgr}{exSvcEvtProc}
\Ed{EventLoopMgr}{MinimalEventLoopMgr}
\Ed{RootPerfMonSvc}{Service}
\Ed{PartitionSwitchTool}{exToolPart}
\Ed{ToolSvc}{exSvcTool}
\Ed{SignalMonitorSvc}{exSvcSignal}
\Ed{PartitionSwitchAlg}{exAlgPart}
\Ed{CounterSvc}{exSvcCounter}
\Ed{GIODataManager}{exSvcIOData}
\foreach \cc in {RootEvtSelector,EventCollectionSelector,EventSelector}{\draw[edg] (\cc) to (exSvcEvtSel);}
\Ed{StatusCodeSvc}{exSvcStatusCode}
\Ed{PartPropSvc}{exSvcPartProp}
\Ed{ExceptionSvc}{exSvcException}
\Ed{FileReadTool}{exToolFileAccess}
\Ed{GParticlePropertySvc}{exSvcParticleProp}
\Ed{IssueLogger}{exSvcIssueLogger}
\Ed{VFSSvc}{exSvcFileAccess}
\Ed{IncidentSvc}{exSvcIncidentSvc}
\foreach \cc in {StalledEventMonitor,DataOnDemandSvc,StopSignalHandler}{\draw[edg] (\cc) to (exSvcIncident);}
\Ed{AppMgrRunable}{exSvcRunable}
\Ed{PythonScriptingSvc}{exSvcRunable}
\Ed{AuditorSvc}{exSvcAuditorSvc}
\Ed{THistSvc}{exSvcTHist}
\Ed{PersistencySvc}{exSvcCnvPers}
\foreach \cc in {DetPersistencySvc,EvtPersistencySvc,HistogramPersistencySvc}{\draw[edg] (\cc) to (PersistencySvc);}
\foreach \cc in {EventCounter,EvtCollectionStream,StoreSnifferAlg,GaudiCommonAlg,PyAlgorithm,OutputStream,Sequencer,StoreExplorerAlg,CollectionCloneAlg}{\draw[edg] (\cc) to (Algorithm);}
\Ed{GaudiAlgorithm}{GaudiCommonAlg}
\Ed{CollectHistograms}{PyAlgorithm}
\foreach \cc in {RecordStream,RunRecordStream,SequentialOutputStream,TagCollectionStream,InputCopyStream}{\draw[edg] (\cc) to (OutputStream);}
\foreach \cc in {EventNodeKiller,GaudiHistosAlg,GaudiSequencer,Prescaler,RecordOutputStream,ReplayOutputStream}{\draw[edg] (\cc) to (GaudiAlgorithm);}
\Ed{GaudiHistoAlg}{GaudiHistosAlg}
\Ed{GaudiTuplesAlg}{GaudiHistoAlg}
\Ed{GaudiTupleAlg}{GaudiTuplesAlg}
\Ed{MultiStoreSvc}{exSvcDataProv}
\Ed{RndmEngine}{exSvcRndmEng}
\Ed{HepBaseEngine}{RndmEngine}
\Ed{HepEngine}{HepBaseEngine}
\Ed{RndmGenSvc}{exSvcRndmGen}
\end{pgfonlayer}
\end{tikzpicture}
\end{document}
